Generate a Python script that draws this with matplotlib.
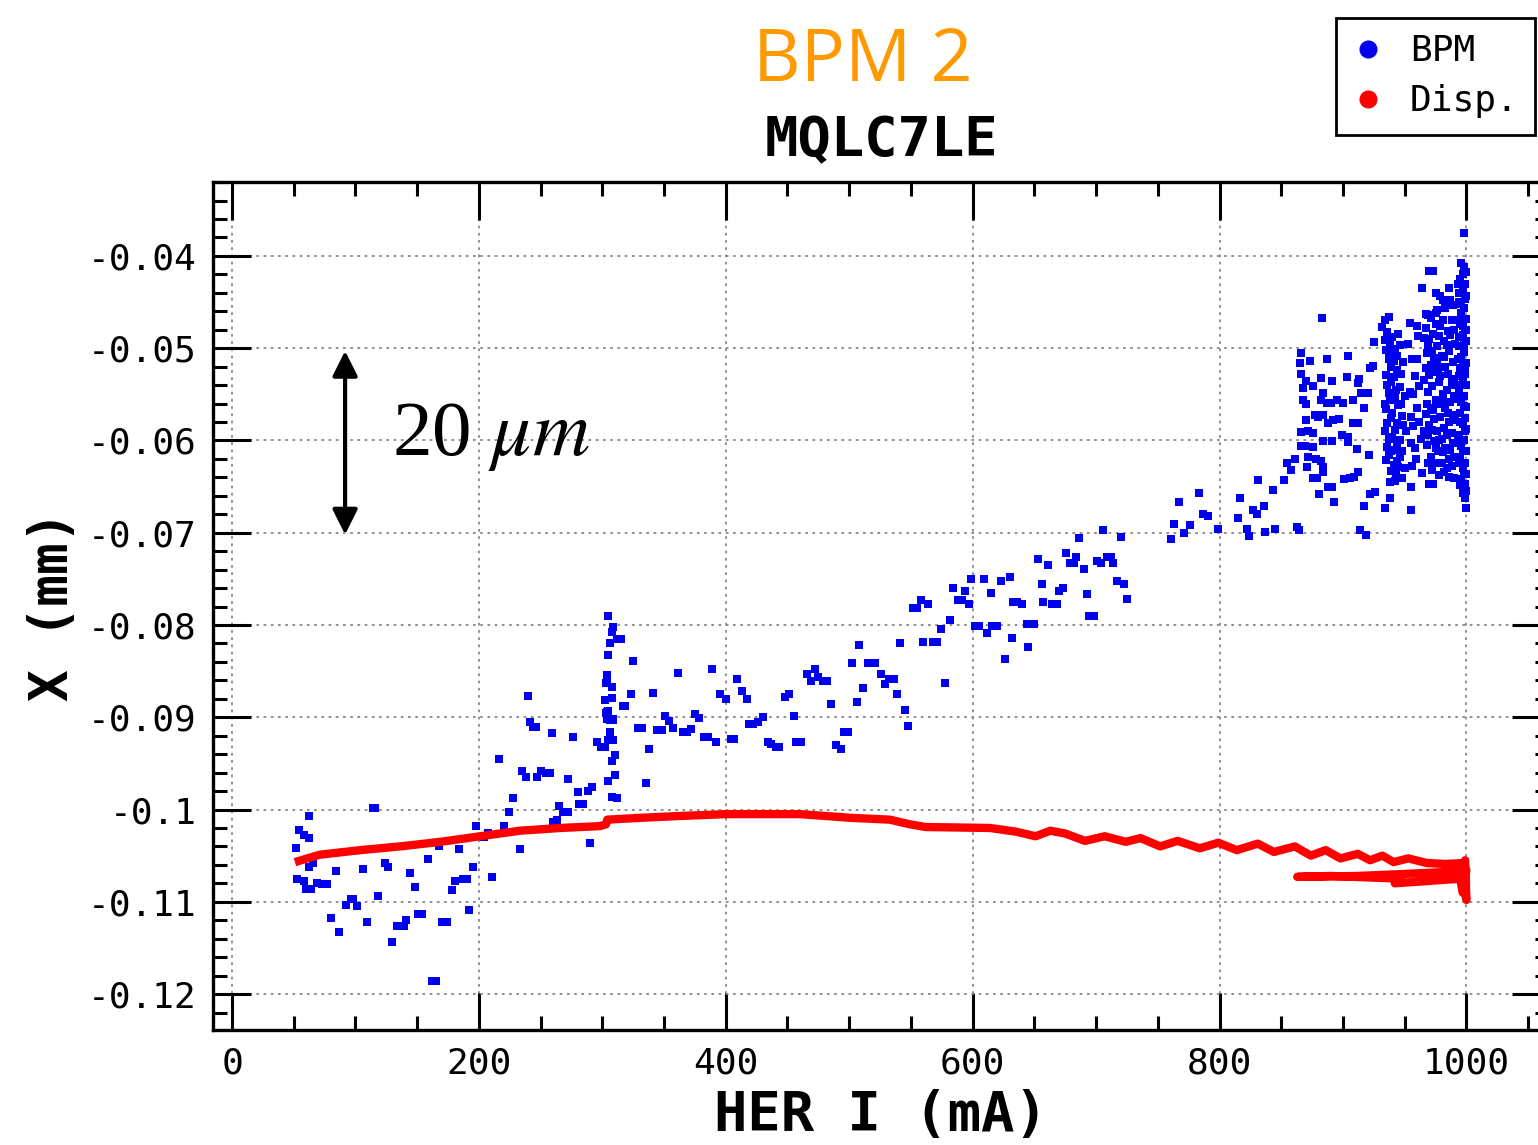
import matplotlib
matplotlib.use('Agg')
import matplotlib.pyplot as plt
from matplotlib.ticker import MultipleLocator
from matplotlib.lines import Line2D
import numpy as np

# BPM readings (HER current in mA, X in mm), grouped by current range
bpm_low = [(52, -0.1042), (54, -0.1022), (58, -0.1028), (62, -0.1031), (62, -0.1007),
           (53, -0.1075), (58, -0.1078), (62, -0.1062), (66, -0.1058), (60, -0.1086),
           (64, -0.1086), (69, -0.1080), (73, -0.1081), (77, -0.1081), (84, -0.1067),
           (80, -0.1118), (87, -0.1133), (92, -0.1104), (96, -0.1097), (98, -0.1097),
           (101, -0.1105), (106, -0.1064), (109, -0.1122), (114, -0.0998), (116, -0.0998),
           (118, -0.1094), (124, -0.1058), (126, -0.1062), (130, -0.1144), (134, -0.1126),
           (139, -0.1126), (141, -0.1120), (144, -0.1069), (148, -0.1084), (151, -0.1113),
           (154, -0.1113), (159, -0.1054), (162, -0.1186), (165, -0.1186), (168, -0.1040),
           (170, -0.1122), (174, -0.1122), (178, -0.1087), (181, -0.1078), (184, -0.1043),
           (187, -0.1075), (190, -0.1075), (192, -0.1109), (195, -0.1062), (198, -0.1018),
           (211, -0.1073), (204, -0.1030), (207, -0.1025)]

bpm_mid = [(240, -0.0877), (241, -0.0905), (244, -0.0911), (246, -0.0911), (259, -0.0917),
           (276, -0.0921), (216, -0.0945), (235, -0.0958), (238, -0.0965), (247, -0.0965),
           (250, -0.0958), (254, -0.0960), (258, -0.0960), (272, -0.0967), (228, -0.0988),
           (224, -0.1003), (220, -0.1018), (280, -0.0981), (288, -0.0980), (292, -0.0976),
           (265, -0.0996), (268, -0.1003), (272, -0.1003), (260, -0.1014), (263, -0.1011),
           (281, -0.0994), (284, -0.0994), (233, -0.1043), (290, -0.1036),
           (303, -0.0863), (308, -0.0867), (302, -0.0881), (308, -0.0879), (318, -0.0888),
           (323, -0.0875), (341, -0.0874), (304, -0.0894), (305, -0.0898), (306, -0.0903),
           (309, -0.0903), (306, -0.0916), (305, -0.0925), (309, -0.0925), (296, -0.0927),
           (299, -0.0932), (302, -0.0932), (310, -0.0941), (308, -0.0947), (310, -0.0963),
           (305, -0.0969), (308, -0.0986), (312, -0.0988), (329, -0.0912), (332, -0.0912),
           (338, -0.0934), (335, -0.0971), (351, -0.0899), (354, -0.0904), (357, -0.0912),
           (344, -0.0914), (348, -0.0914),
           (305, -0.0790), (309, -0.0802), (308, -0.0808), (312, -0.0815), (315, -0.0815),
           (306, -0.0820), (305, -0.0833), (325, -0.0839), (304, -0.0854), (304, -0.0863),
           (317, -0.0888), (361, -0.0852), (389, -0.0848), (409, -0.0859), (413, -0.0872),
           (417, -0.0880), (395, -0.0875), (400, -0.0880), (303, -0.0895), (305, -0.0893),
           (304, -0.0902), (309, -0.0902), (375, -0.0896), (378, -0.0901), (365, -0.0916),
           (369, -0.0916), (372, -0.0913), (382, -0.0921), (386, -0.0921), (392, -0.0927),
           (404, -0.0924), (407, -0.0924), (419, -0.0907), (422, -0.0907), (426, -0.0905),
           (430, -0.0900), (434, -0.0927), (437, -0.0929), (441, -0.0932)]

bpm_high = [(582, -0.0795), (574, -0.0804), (560, -0.0818), (568, -0.0818), (571, -0.0818),
            (541, -0.0820), (508, -0.0822), (502, -0.0841), (515, -0.0841), (519, -0.0841),
            (521, -0.0841), (472, -0.0848), (466, -0.0853), (469, -0.0861), (475, -0.0856),
            (479, -0.0861), (482, -0.0861), (526, -0.0853), (532, -0.0859), (536, -0.0859),
            (529, -0.0864), (511, -0.0868), (448, -0.0878), (451, -0.0875), (485, -0.0886),
            (506, -0.0883), (539, -0.0875), (545, -0.0892), (548, -0.0909), (578, -0.0863),
            (455, -0.0899), (496, -0.0916), (499, -0.0916), (443, -0.0932), (457, -0.0927),
            (461, -0.0927), (489, -0.0930), (493, -0.0934),
            (706, -0.0697), (686, -0.0706), (720, -0.0705), (676, -0.0722), (679, -0.0733),
            (682, -0.0733), (684, -0.0726), (653, -0.0728), (661, -0.0735), (690, -0.0739),
            (701, -0.0731), (704, -0.0733), (709, -0.0726), (712, -0.0726), (714, -0.0733),
            (717, -0.0752), (723, -0.0756), (725, -0.0772), (693, -0.0766), (656, -0.0756),
            (670, -0.0763), (673, -0.0760), (657, -0.0775), (664, -0.0777), (668, -0.0777),
            (694, -0.0790), (698, -0.0790), (599, -0.0750), (609, -0.0750), (623, -0.0752),
            (630, -0.0748), (615, -0.0765), (584, -0.0760), (594, -0.0763), (588, -0.0773),
            (591, -0.0773), (597, -0.0777), (558, -0.0773), (564, -0.0777), (552, -0.0782),
            (555, -0.0782), (602, -0.0801), (605, -0.0801), (616, -0.0801), (620, -0.0801),
            (612, -0.0809), (633, -0.0775), (636, -0.0775), (640, -0.0777), (644, -0.0799),
            (648, -0.0799), (650, -0.0799), (632, -0.0814), (645, -0.0824), (626, -0.0837)]

bpm_top = [(998, -0.0375), (883, -0.0467), (866, -0.0505), (865, -0.0516), (873, -0.0514),
           (887, -0.0512), (904, -0.0509), (866, -0.0528), (870, -0.0536), (882, -0.0532),
           (876, -0.0541), (891, -0.0536), (903, -0.0531), (913, -0.0533), (912, -0.0538),
           (868, -0.0543), (884, -0.0549), (882, -0.0556), (887, -0.0559), (890, -0.0559),
           (868, -0.0556), (870, -0.0560), (895, -0.0556), (900, -0.0559), (908, -0.0556),
           (915, -0.0549), (920, -0.0549), (917, -0.0565), (922, -0.0521), (924, -0.0519),
           (925, -0.0493), (870, -0.0578), (877, -0.0572), (880, -0.0575), (884, -0.0572),
           (888, -0.0581), (892, -0.0578), (897, -0.0577), (908, -0.0581), (912, -0.0581),
           (866, -0.0591), (872, -0.0590), (876, -0.0592), (884, -0.0601), (891, -0.0601),
           (899, -0.0594), (904, -0.0596), (904, -0.0602), (866, -0.0606), (869, -0.0606),
           (876, -0.0607), (911, -0.0609), (855, -0.0624), (861, -0.0620), (858, -0.0632),
           (872, -0.0618), (878, -0.0620), (882, -0.0622), (871, -0.0629), (884, -0.0629),
           (884, -0.0634), (876, -0.0641), (879, -0.0641), (888, -0.0650), (891, -0.0650),
           (901, -0.0642), (906, -0.0641), (909, -0.0640), (912, -0.0634), (921, -0.0616),
           (881, -0.0658), (893, -0.0667), (922, -0.0658), (926, -0.0656), (917, -0.0671),
           (831, -0.0643), (852, -0.0643), (843, -0.0654), (817, -0.0662), (827, -0.0675),
           (830, -0.0680), (836, -0.0671), (815, -0.0684), (783, -0.0657), (767, -0.0667),
           (787, -0.0680), (791, -0.0682), (763, -0.0691), (776, -0.0692), (771, -0.0700),
           (799, -0.0696), (822, -0.0696), (824, -0.0704), (837, -0.0699), (845, -0.0696),
           (863, -0.0694), (864, -0.0697), (914, -0.0697), (919, -0.0702), (761, -0.0707),
           (970, -0.0416), (973, -0.0416), (964, -0.0435), (986, -0.0435), (975, -0.0440),
           (979, -0.0444), (981, -0.0448), (989, -0.0453), (967, -0.0463), (971, -0.0467),
           (976, -0.0459), (954, -0.0473), (960, -0.0476), (937, -0.0466), (934, -0.0469),
           (932, -0.0477), (990, -0.0641), (970, -0.0647), (973, -0.0647), (955, -0.0651),
           (938, -0.0662), (934, -0.0673), (955, -0.0675), (999, -0.0647), (1000, -0.0673)]

# dense cloud at the highest currents
bpm_dense = [(936, -0.0482), (938, -0.0495), (940, -0.0488), (942, -0.0501), (937, -0.0512),
             (939, -0.0520), (944, -0.0509), (946, -0.0497), (941, -0.0531), (936, -0.0540),
             (943, -0.0545), (947, -0.0528), (938, -0.0556), (945, -0.0562), (940, -0.0570),
             (936, -0.0581), (942, -0.0589), (948, -0.0574), (937, -0.0598), (944, -0.0603),
             (939, -0.0612), (946, -0.0618), (941, -0.0627), (935, -0.0621), (943, -0.0636),
             (948, -0.0641), (938, -0.0645), (950, -0.0552), (949, -0.0515), (951, -0.0590),
             (935, -0.0502), (934, -0.0560), (945, -0.0485), (950, -0.0630),
             (934, -0.0491), (937, -0.0504), (941, -0.0514), (944, -0.0524), (935, -0.0529),
             (939, -0.0537), (946, -0.0542), (937, -0.0549), (942, -0.0554), (947, -0.0560),
             (935, -0.0566), (939, -0.0576), (944, -0.0581), (949, -0.0583), (934, -0.0590),
             (940, -0.0596), (946, -0.0600), (936, -0.0607), (942, -0.0610), (948, -0.0612),
             (937, -0.0616), (944, -0.0622), (939, -0.0633), (945, -0.0629), (942, -0.0644),
             (953, -0.0495), (956, -0.0512), (958, -0.0530), (954, -0.0548), (960, -0.0565),
             (957, -0.0584), (955, -0.0603), (959, -0.0620), (962, -0.0541), (963, -0.0598),
             (961, -0.0487), (964, -0.0635), (957, -0.0550), (960, -0.0512), (955, -0.0575),
             (962, -0.0580), (958, -0.0608), (956, -0.0628),
             (967, -0.0478), (970, -0.0490), (973, -0.0485), (976, -0.0498), (979, -0.0476),
             (982, -0.0492), (985, -0.0481), (988, -0.0470), (968, -0.0505), (971, -0.0518),
             (974, -0.0511), (977, -0.0525), (980, -0.0508), (983, -0.0520), (986, -0.0503),
             (989, -0.0515), (966, -0.0535), (969, -0.0548), (972, -0.0541), (975, -0.0556),
             (978, -0.0537), (981, -0.0550), (984, -0.0545), (987, -0.0558), (990, -0.0533),
             (967, -0.0571), (970, -0.0583), (973, -0.0567), (976, -0.0590), (979, -0.0575),
             (982, -0.0586), (985, -0.0570), (988, -0.0592), (968, -0.0605), (971, -0.0618),
             (974, -0.0601), (977, -0.0612), (980, -0.0625), (983, -0.0608), (986, -0.0620),
             (989, -0.0603), (972, -0.0632), (978, -0.0638), (984, -0.0630), (975, -0.0462),
             (983, -0.0456), (987, -0.0448), (980, -0.0598), (969, -0.0464), (991, -0.0578),
             (991, -0.0540), (991, -0.0495),
             (966, -0.0489), (969, -0.0497), (972, -0.0503), (975, -0.0474), (978, -0.0487),
             (981, -0.0470), (984, -0.0497), (987, -0.0486), (990, -0.0480), (967, -0.0521),
             (970, -0.0529), (973, -0.0526), (976, -0.0516), (979, -0.0530), (982, -0.0510),
             (985, -0.0528), (988, -0.0537), (990, -0.0552), (968, -0.0560), (971, -0.0565),
             (974, -0.0577), (977, -0.0560), (980, -0.0556), (983, -0.0565), (986, -0.0580),
             (989, -0.0572), (966, -0.0590), (969, -0.0594), (972, -0.0589), (975, -0.0608),
             (978, -0.0600), (981, -0.0613), (984, -0.0594), (987, -0.0610), (990, -0.0618),
             (969, -0.0625), (975, -0.0625), (982, -0.0634), (988, -0.0628), (986, -0.0640),
             (996, -0.0408), (998, -0.0412), (1000, -0.0418), (995, -0.0425), (999, -0.0431),
             (997, -0.0437), (1000, -0.0444), (994, -0.0450), (998, -0.0456), (996, -0.0462),
             (1000, -0.0468), (995, -0.0474), (999, -0.0480), (997, -0.0486), (1000, -0.0492),
             (994, -0.0498), (998, -0.0504), (996, -0.0510), (1000, -0.0516), (995, -0.0522),
             (999, -0.0528), (997, -0.0534), (1000, -0.0540), (994, -0.0546), (998, -0.0552),
             (996, -0.0558), (1000, -0.0564), (995, -0.0570), (999, -0.0576), (997, -0.0582),
             (1000, -0.0588), (994, -0.0594), (998, -0.0600), (996, -0.0606), (1000, -0.0612),
             (995, -0.0618), (999, -0.0624), (997, -0.0630), (1000, -0.0636), (996, -0.0642),
             (998, -0.0648), (1000, -0.0655), (999, -0.0662),
             (993, -0.0430), (997, -0.0420), (994, -0.0440), (999, -0.0447), (996, -0.0452),
             (993, -0.0470), (997, -0.0476), (1000, -0.0480), (994, -0.0488), (998, -0.0495),
             (993, -0.0512), (997, -0.0516), (999, -0.0520), (994, -0.0530), (996, -0.0540),
             (993, -0.0555), (998, -0.0563), (995, -0.0580), (999, -0.0590), (993, -0.0600),
             (997, -0.0612), (994, -0.0625), (998, -0.0636), (995, -0.0648), (997, -0.0657)]

# dispersion contribution (connected trace)
disp_i = [51, 71, 104, 136, 169, 201, 233, 266, 298, 303, 304, 331, 363, 400, 460,
          501, 533, 549, 562, 614, 635, 651, 663, 675, 691, 707, 724, 736, 752, 766,
          784, 799, 814, 831, 844, 861, 874, 886, 898, 912, 922, 932, 941, 953, 968,
          983, 998, 999, 1000, 998, 1000, 979, 947, 912, 863, 890, 947, 942, 995, 997, 1000]
disp_x = [-0.1057, -0.1049, -0.1044, -0.1040, -0.1035, -0.1029, -0.1023, -0.1020, -0.1018,
          -0.1016, -0.1011, -0.1009, -0.1007, -0.1005, -0.1005, -0.1009, -0.1011, -0.1016,
          -0.1019, -0.1020, -0.1024, -0.1029, -0.1023, -0.1026, -0.1034, -0.1029, -0.1035,
          -0.1031, -0.1040, -0.1034, -0.1042, -0.1036, -0.1044, -0.1037, -0.1046, -0.1040,
          -0.1050, -0.1044, -0.1053, -0.1048, -0.1055, -0.1050, -0.1057, -0.1053, -0.1058,
          -0.1059, -0.1058, -0.1055, -0.1098, -0.1082, -0.1066, -0.1068, -0.1070, -0.1072,
          -0.1073, -0.1072, -0.1075, -0.1080, -0.1075, -0.1090, -0.1077]

xticks = [0, 200, 400, 600, 800, 1000]
yticks = [-0.04, -0.05, -0.06, -0.07, -0.08, -0.09, -0.1, -0.11, -0.12]
ytick_labels = ['-0.04', '-0.05', '-0.06', '-0.07', '-0.08', '-0.09', '-0.1', '-0.11', '-0.12']

mono = 'DejaVu Sans Mono'
plt.rcParams['mathtext.fontset'] = 'stix'

fig = plt.figure(figsize=(15.38, 11.45), dpi=100)
ax = fig.add_axes([0.1385, 0.1004, 0.8687, 0.7406])

bpm = np.array(bpm_low + bpm_mid + bpm_high + bpm_top + bpm_dense)
ax.plot(bpm[:, 0], bpm[:, 1], 's', color='#0000ee', ms=5.8, mew=0, zorder=3)
ax.plot(disp_i, disp_x, '-', color='#ff0000', lw=6, solid_joinstyle='round',
        solid_capstyle='butt', zorder=4)

ax.set_xlim(-15.4, 1067)
ax.set_ylim(-0.1239, -0.0320)
ax.set_xticks(xticks)
ax.set_yticks(yticks)
ax.set_yticklabels(ytick_labels)
ax.xaxis.set_minor_locator(MultipleLocator(50))
ax.yaxis.set_minor_locator(MultipleLocator(0.002))
ax.tick_params(which='both', direction='in', top=True, right=True, width=2.2)
ax.tick_params(which='major', length=27, labelsize=26, pad=12)
ax.tick_params(which='minor', length=10)
for lab in ax.get_xticklabels() + ax.get_yticklabels():
    lab.set_family(mono)
for sp in ax.spines.values():
    sp.set_linewidth(2.4)
ax.grid(True, which='major', ls=(0, (1.5, 2.5)), color='#888888', lw=1.3)

ax.set_xlabel('HER I (mA)', family=mono, weight='bold', fontsize=40, labelpad=6)
ax.set_ylabel('X (mm)', family=mono, weight='bold', fontsize=38, labelpad=6)

fig.text(0.573, 0.877, 'MQLC7LE', family=mono, weight='bold', fontsize=40,
         ha='center', va='center')
fig.text(0.561, 0.946, 'BPM 2', family='Open Sans', fontsize=53, color='#ff9900',
         ha='center', va='center')

# scale arrow
ax.annotate('', xy=(91.6, -0.0503), xytext=(91.6, -0.0702),
            arrowprops=dict(arrowstyle='<|-|>', color='black', lw=3,
                            mutation_scale=38, shrinkA=0, shrinkB=0))
ax.text(130, -0.0596, r'20 $\mu m$', family='Liberation Serif', fontsize=57,
        ha='left', va='center')

handles = [Line2D([], [], ls='none', marker='o', color='#0000ee', ms=12),
           Line2D([], [], ls='none', marker='o', color='#ff0000', ms=12)]
leg = fig.legend(handles, ['BPM', 'Disp.'], loc='upper right',
                 bbox_to_anchor=(1535 / 1538, 1 - 18 / 1145), borderaxespad=0,
                 prop={'family': mono, 'size': 26}, fancybox=False,
                 edgecolor='black', framealpha=1, handletextpad=0.7,
                 handlelength=0.9, borderpad=0.45, labelspacing=0.45)
leg.get_frame().set_linewidth(2)

fig.savefig('out.png', dpi=100)
